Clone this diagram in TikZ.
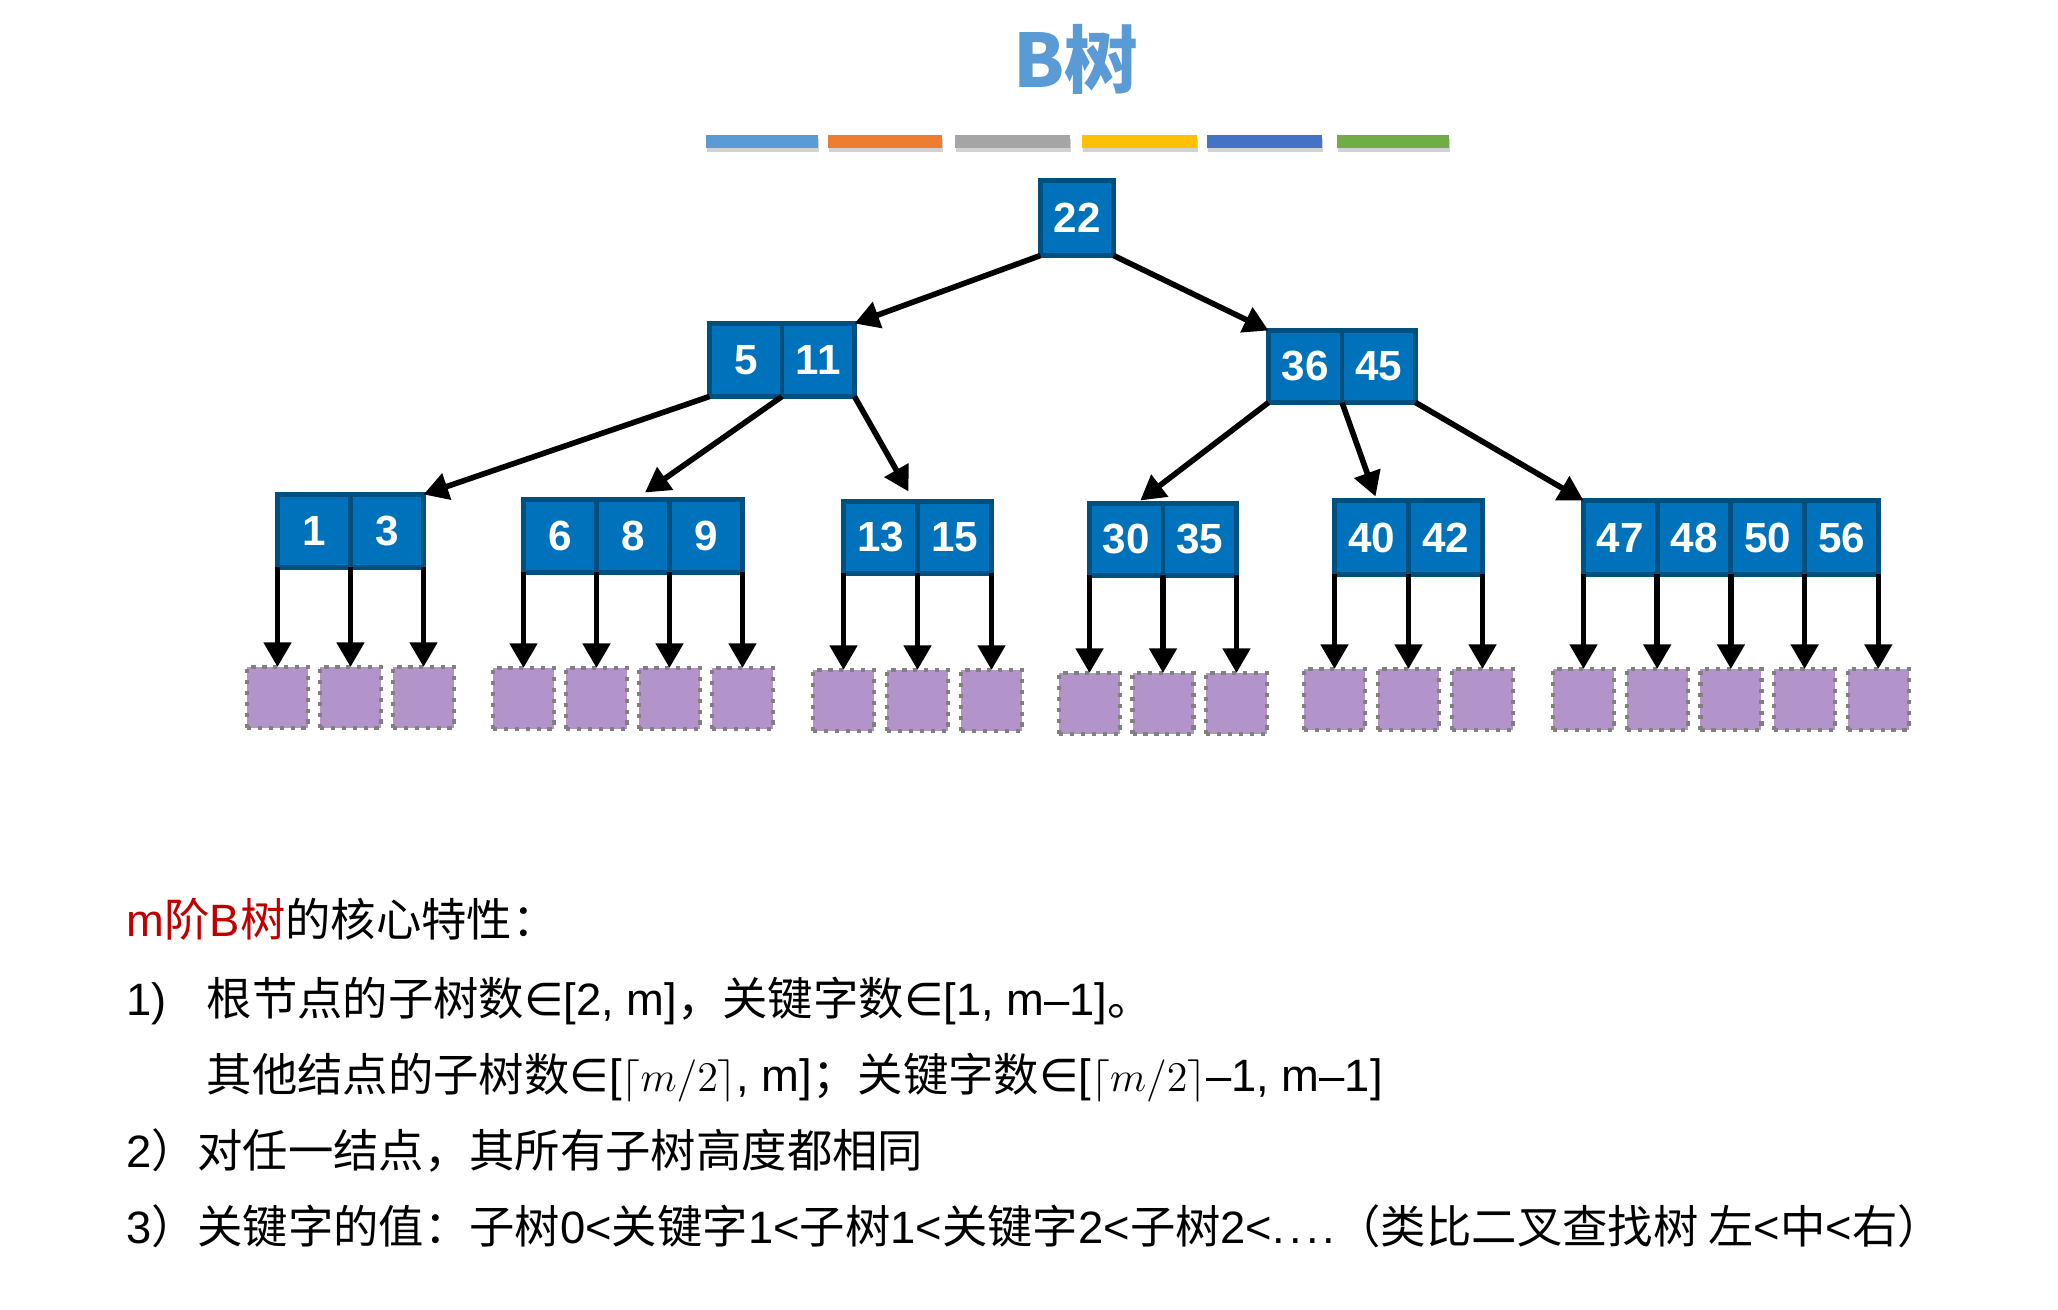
\documentclass[tikz,border=0pt]{standalone}
\usepackage{fontspec}
\setmainfont{Liberation Sans}
\newfontfamily\cjk{Noto Sans CJK SC}
\newfontfamily\lat{Liberation Sans}
\newfontfamily\sym{DejaVu Sans}
\newcommand\elemof{{\sym ∈}}
\usetikzlibrary{arrows.meta,shadows,calc}

\definecolor{keyfill}{HTML}{0072BB}
\definecolor{keyline}{HTML}{00507F}
\definecolor{leaffill}{HTML}{B294CB}
\definecolor{leafline}{HTML}{808080}
\definecolor{titleblue}{HTML}{5B9BD5}
\definecolor{hired}{HTML}{C00000}
\definecolor{barA}{HTML}{5B9BD5}
\definecolor{barB}{HTML}{ED7D31}
\definecolor{barC}{HTML}{A5A5A5}
\definecolor{barD}{HTML}{FFC000}
\definecolor{barE}{HTML}{4472C4}
\definecolor{barF}{HTML}{70AD47}

\tikzset{
  keycell/.style={draw=keyline, fill=keyfill, line width=1.4pt, text=white,
    inner sep=0pt, outer sep=0pt, anchor=north west,
    font=\bfseries\fontsize{12pt}{13pt}\selectfont},
  leafbox/.style={draw=leafline, fill=leaffill, line width=1.2pt,
    dash pattern=on 1.2pt off 1.9pt, minimum width=0.61cm, minimum height=0.61cm,
    inner sep=0pt, outer sep=0pt, anchor=north},
  arr/.style={line width=1.6pt, -{Triangle[width=7.6pt,length=7pt]}},
  colorbar/.style={drop shadow={shadow xshift=0.4pt, shadow yshift=-1.2pt, opacity=0.35}},
  body/.style={font=\cjk\fontsize{12.9pt}{15pt}\selectfont, anchor=base west, inner sep=0pt},
}

% a B-tree node: name, left x, top y, cell width, cell height, keys
\newcommand\keynode[6]{%
  \foreach \k [count=\i from 0] in {#6}
    \node[keycell, minimum width=#4*0.01cm, minimum height=#5*0.01cm]
      (#1-\i) at ({#2+\i*#4},#3) {\k};
}

% child subtrees below a node: name, number of keys, top y of the subtree boxes
\newcommand\subtrees[3]{%
  \foreach \i in {0,...,#2} {
    \ifnum\i=0 \def\a{#1-0.south west}\else
      \pgfmathtruncatemacro\j{\i-1}\edef\a{#1-\j.south east}\fi
    \node[leafbox] (#1-leaf\i) at (\a |- 0,#3) {};
    \draw[arr] (\a) -- (#1-leaf\i.north);
  }
}

\begin{document}
\begin{tikzpicture}[x=0.01cm, y=-0.01cm]
\useasboundingbox (0,0) rectangle (2058,1310);
\fill[white] (0,0) rectangle (2058,1310);

% title and colour strip
\node[font=\cjk\bfseries\fontsize{21pt}{24pt}\selectfont, text=titleblue] (title) at (1076,59) {B树};
\fill[barA, colorbar] (706,135) rectangle (818,148);
\fill[barB, colorbar] (828,135) rectangle (942,148);
\fill[barC, colorbar] (955,135) rectangle (1070,148);
\fill[barD, colorbar] (1082,135) rectangle (1197,148);
\fill[barE, colorbar] (1207,135) rectangle (1322,148);
\fill[barF, colorbar] (1337,135) rectangle (1449,148);

% tree nodes
\keynode{root}{1040.5}{180.5}{73}{75}{22}
\keynode{n511}{709.5}{323.5}{72.5}{73}{5,11}
\keynode{n3645}{1268.5}{330.5}{73.5}{72}{36,45}
\keynode{n13}{277.5}{494.5}{73}{73}{1,3}
\keynode{n689}{523.5}{499.5}{73}{73}{6,8,9}
\keynode{n1315}{843.5}{501.5}{74}{72}{13,15}
\keynode{n3035}{1089.5}{503.5}{73.5}{72}{30,35}
\keynode{n4042}{1334.5}{500.5}{74}{74}{40,42}
\keynode{n47}{1583.5}{500.5}{73.7}{74}{47,48,50,56}

% links between levels
\draw[arr] (root-0.south west) -- (n511-1.north east);
\draw[arr] (root-0.south east) -- (n3645-0.north west);
\draw[arr] (n511-0.south west) -- (n13-1.north east);
\draw[arr] (n511-0.south east) -- ([xshift=0.12cm,yshift=0.07cm]n689-1.north);
\draw[arr] (n511-1.south east) -- ([xshift=-0.09cm,yshift=0.1cm]n1315-0.north east);
\draw[arr] (n3645-0.south west) -- ([xshift=0.14cm,yshift=0.03cm]n3035-0.north);
\draw[arr] (n3645-0.south east) -- ([xshift=0.04cm,yshift=0.04cm]n4042-0.north);
\draw[arr] (n3645-1.south east) -- (n47-0.north west);

% subtrees
\subtrees{n13}{2}{667}
\subtrees{n689}{3}{668}
\subtrees{n1315}{2}{670}
\subtrees{n3035}{2}{673}
\subtrees{n4042}{2}{669}
\subtrees{n47}{4}{669}

% properties
\node[body] (head) at (126,936) {\textcolor{hired}{{\lat m}阶{\lat B}树}的核心特性：};
\node[body] (p1n) at (126,1015) {{\lat 1)}};
\node[body] (p1) at (206,1015) {根节点的子树数\elemof{\lat [2, m]}，关键字数\elemof{\lat [1, m–1]}。};
\node[body] (p1b) at (206,1091) {其他结点的子树数\elemof{\lat [}$\lceil m/2\rceil${\lat , m]}；关键字数\elemof{\lat [}$\lceil m/2\rceil${\lat –1, m–1]}};
\node[body] (p2) at (126,1167) {{\lat 2}）对任一结点，其所有子树高度都相同};
\node[body] (p3) at (126,1243) {{\lat 3}）关键字的值：子树{\lat 0<}关键字{\lat 1<}子树{\lat 1<}关键字{\lat 2<}子树{\lat 2<.\kern1.2pt.\kern1.2pt.\kern1.2pt.}（类比二叉查找树 左{\lat <}中{\lat <}右）};
\end{tikzpicture}
\end{document}
